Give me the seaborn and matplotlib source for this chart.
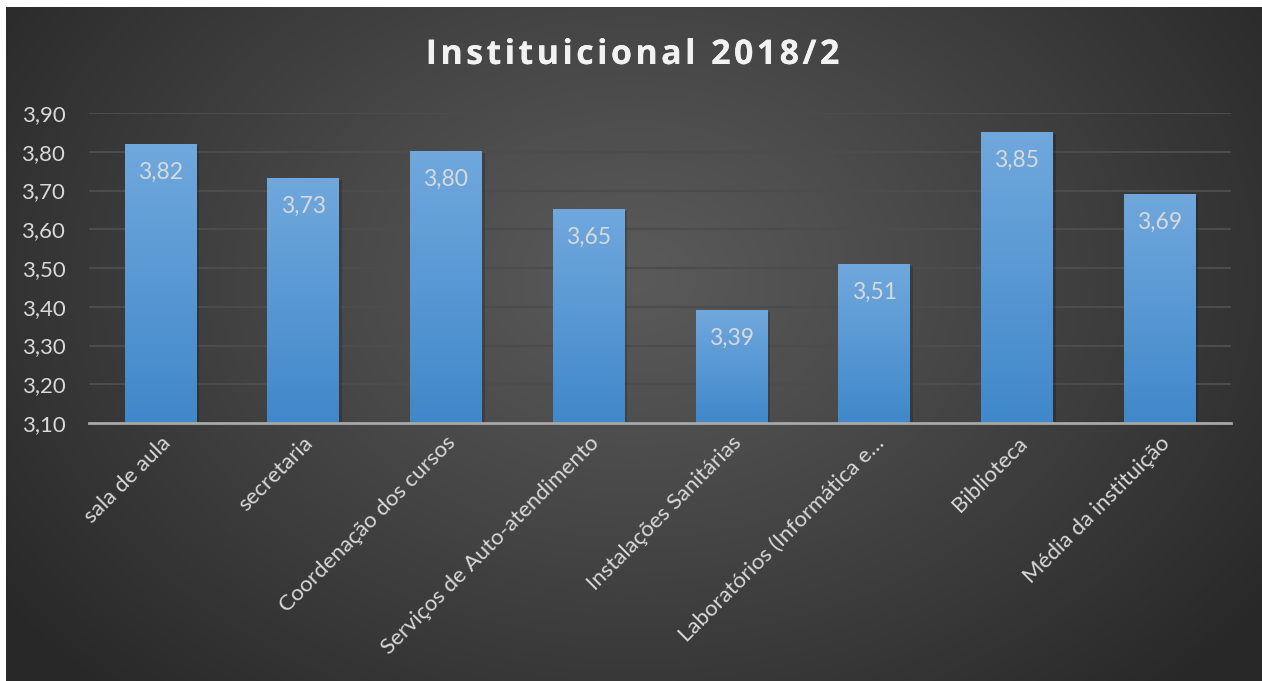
import numpy as np
import pandas as pd
import matplotlib
matplotlib.use("Agg")
import matplotlib.pyplot as plt
import matplotlib.patheffects as pe
import seaborn as sns
from matplotlib.ticker import FuncFormatter

categories = ["sala de aula", "secretaria", "Coordenação dos cursos",
              "Serviços de Auto-atendimento", "Instalações Sanitárias",
              "Laboratórios (Informática e…", "Biblioteca", "Média da instituição"]
values = [3.82, 3.73, 3.80, 3.65, 3.39, 3.51, 3.85, 3.69]
title = "Instituicional 2018/2"
ymin, ymax = 3.10, 3.90

sns.set_theme(style="dark")
plt.rcParams['font.family'] = ['Lato', 'DejaVu Sans']

W, H = 1262, 681
fig = plt.figure(figsize=(W / 100, H / 100), dpi=100)
fig.patch.set_facecolor("white")

# background radial gradient
bg = fig.add_axes([6 / W, 0, (W - 6) / W, (H - 7) / H])
bg.set_axis_off()
ny, nx = 340, 630
yy, xx = np.mgrid[0:ny, 0:nx]
cx, cy = nx * 0.50, ny * 0.40
d = np.sqrt(((xx - cx) / (nx * 0.62)) ** 2 + ((yy - cy) / (ny * 0.85)) ** 2)
d = np.clip(d, 0, 1)
c_in, c_out = 0x5a / 255, 0x28 / 255
g = c_in + (c_out - c_in) * d ** 1.1
img = np.dstack([g, g, g])
bg.imshow(img, aspect="auto", extent=[0, 1, 0, 1], interpolation="bilinear")
bg.set_xlim(0, 1); bg.set_ylim(0, 1)

# main axes
left, right = 89 / W, 1231 / W
top, bottom = 113 / H, 423 / H
ax = fig.add_axes([left, 1 - bottom, right - left, bottom - top])
ax.set_facecolor("none")
ax.patch.set_alpha(0)

df = pd.DataFrame({"cat": categories, "val": values})
sns.barplot(data=df, x="cat", y="val", ax=ax, width=0.5, color="#5b9bd5",
            saturation=1, zorder=3)
ax.set_ylim(ymin, ymax)
ax.set_xlim(-0.5, len(categories) - 0.5)

# gradient fill for bars
grad = np.linspace(0, 1, 256).reshape(-1, 1)
top_c = np.array([0x70, 0xa8, 0xdd]) / 255
bot_c = np.array([0x40, 0x88, 0xca]) / 255
gimg = top_c * (1 - grad[..., None]) + bot_c * grad[..., None]
gimg = gimg.reshape(256, 1, 3)
for p in list(ax.patches):
    x0, w = p.get_x(), p.get_width()
    y1 = p.get_height()
    ax.add_patch(plt.Rectangle((x0 + 0.012, ymin), w + 0.01, y1 - ymin - 0.004,
                               facecolor="black", alpha=0.18, zorder=2,
                               linewidth=0))
    p.set_facecolor("none")
    p.set_edgecolor("none")
    ax.imshow(gimg, extent=[x0, x0 + w, ymin, y1], aspect="auto",
              zorder=3, interpolation="bilinear")
ax.set_xlim(-0.5, len(categories) - 0.5)
ax.set_ylim(ymin, ymax)

for i, v in enumerate(values):
    ax.text(i, v - 0.072, f"{v:.2f}".replace(".", ","), ha="center", va="center",
            color="#d9d9d9", fontsize=16.5, zorder=5)

ax.set_yticks(np.arange(3.1, 3.9001, 0.1))
ax.yaxis.set_major_formatter(FuncFormatter(lambda v, _: f"{v:.2f}".replace(".", ",")))
ax.tick_params(axis="y", colors="#d9d9d9", labelsize=16, length=0, pad=17)
ax.tick_params(axis="x", colors="#d9d9d9", labelsize=16, length=0, pad=7)
ax.set_xticks(range(len(categories)))
ax.set_xticklabels(categories)
plt.setp(ax.get_xticklabels(), rotation=45, ha="right", rotation_mode="anchor")
ax.set_xlabel("")
ax.set_ylabel("")
ax.grid(axis="y", color="#4c4c4c", linewidth=1.5, zorder=1)
ax.grid(axis="x", visible=False)
ax.set_axisbelow(True)
for s in ["top", "right", "left"]:
    ax.spines[s].set_visible(False)
ax.spines["bottom"].set_color("#a8a8a8")
ax.spines["bottom"].set_linewidth(2)
ax.spines["bottom"].set_zorder(6)

spaced_title = "\u200a".join(title)
fig.text(632 / W, 1 - 55 / H, spaced_title, ha="center", va="center", color="#f2f2f2",
         fontsize=24.5, fontweight="bold", family=["Open Sans", "DejaVu Sans"],
         path_effects=[pe.withSimplePatchShadow(offset=(1.5, -1.5), alpha=0.5),
                       pe.Normal()])

fig.savefig("out.png", dpi=100)
